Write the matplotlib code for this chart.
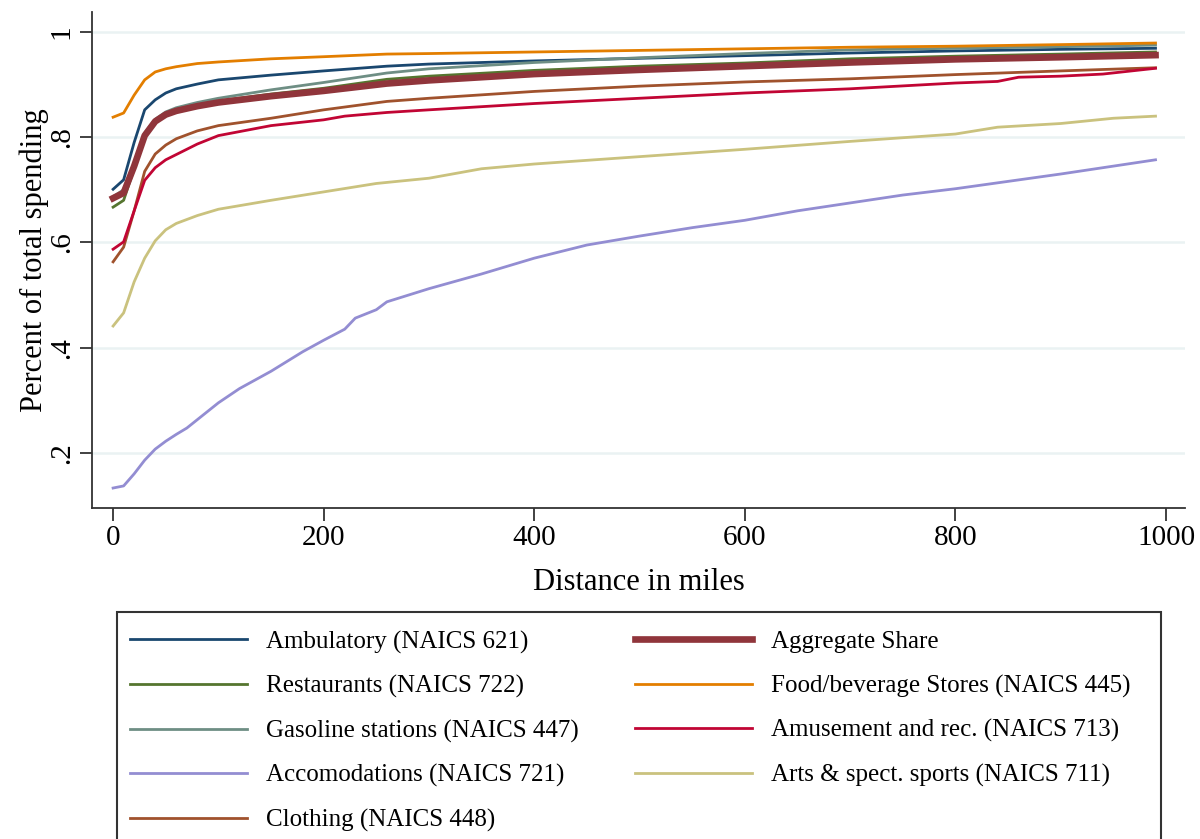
import matplotlib
matplotlib.use("Agg")
import matplotlib.pyplot as plt
from matplotlib.patches import Rectangle

plt.rcParams['font.family'] = ['Liberation Serif', 'DejaVu Serif']

# distance grid (miles) and read-off shares
x_std = [0, 10, 20, 30, 40, 50, 60, 80, 100, 150, 200, 260, 300, 400, 500, 600, 700, 800, 900, 990]

ambulatory = [0.701, 0.719, 0.790, 0.852, 0.871, 0.884, 0.892, 0.901, 0.909, 0.918, 0.926, 0.935, 0.939,
              0.945, 0.950, 0.955, 0.960, 0.964, 0.967, 0.969]
aggregate = [0.684, 0.694, 0.745, 0.803, 0.830, 0.843, 0.850, 0.859, 0.866, 0.878, 0.888, 0.902, 0.908,
             0.920, 0.928, 0.935, 0.942, 0.948, 0.952, 0.956]
restaurants = [0.667, 0.680, 0.740, 0.800, 0.828, 0.843, 0.851, 0.861, 0.869, 0.882, 0.893, 0.910, 0.916,
               0.927, 0.935, 0.941, 0.949, 0.954, 0.958, 0.962]
food = [0.838, 0.846, 0.880, 0.909, 0.924, 0.930, 0.934, 0.940, 0.943, 0.949, 0.953, 0.958, 0.959,
        0.962, 0.965, 0.968, 0.971, 0.973, 0.976, 0.979]
gasoline = [0.687, 0.700, 0.750, 0.808, 0.834, 0.848, 0.856, 0.866, 0.874, 0.890, 0.904, 0.922, 0.930,
            0.942, 0.951, 0.959, 0.966, 0.969, 0.972, 0.975]
clothing = [0.563, 0.591, 0.660, 0.735, 0.768, 0.785, 0.797, 0.812, 0.822, 0.836, 0.852, 0.868, 0.874,
            0.887, 0.897, 0.905, 0.911, 0.919, 0.926, 0.932]

x_amuse = [0, 10, 20, 30, 40, 50, 60, 80, 100, 150, 200, 220, 260, 300, 400, 500, 600, 700, 800, 840,
           860, 900, 940, 990]
amusement = [0.587, 0.601, 0.660, 0.718, 0.742, 0.757, 0.767, 0.787, 0.803, 0.822, 0.833, 0.840, 0.847,
             0.852, 0.864, 0.874, 0.884, 0.892, 0.903, 0.906, 0.914, 0.916, 0.920, 0.931]

x_arts = [0, 10, 20, 30, 40, 50, 60, 80, 100, 150, 200, 250, 300, 350, 400, 500, 600, 700, 800, 840,
          900, 950, 990]
arts = [0.441, 0.466, 0.525, 0.570, 0.603, 0.624, 0.636, 0.651, 0.663, 0.680, 0.696, 0.712, 0.722, 0.740,
        0.749, 0.763, 0.777, 0.792, 0.806, 0.819, 0.826, 0.836, 0.840]

x_accom = [0, 10, 20, 30, 40, 50, 60, 70, 80, 100, 120, 150, 180, 200, 220, 230, 250, 260, 300, 350,
           400, 450, 500, 550, 600, 650, 700, 750, 800, 850, 900, 950, 990]
accom = [0.133, 0.137, 0.160, 0.186, 0.207, 0.222, 0.235, 0.247, 0.263, 0.295, 0.322, 0.355, 0.392,
         0.414, 0.435, 0.456, 0.472, 0.487, 0.512, 0.540, 0.570, 0.595, 0.612, 0.628, 0.642, 0.660,
         0.675, 0.690, 0.702, 0.716, 0.730, 0.745, 0.757]

y_ticks = [0.2, 0.4, 0.6, 0.8, 1.0]
y_ticklabels = ['.2', '.4', '.6', '.8', '1']
x_ticks = [0, 200, 400, 600, 800, 1000]

fig = plt.figure(figsize=(12, 8.39), dpi=100)
ax = fig.add_axes([0.0767, 0.3945, 0.9108, 0.5912])

h = {}
h['amb'], = ax.plot(x_std, ambulatory, color='#1a476f', lw=2.0, label='Ambulatory (NAICS 621)')
h['res'], = ax.plot(x_std, restaurants, color='#55752f', lw=2.0, label='Restaurants (NAICS 722)')
h['gas'], = ax.plot(x_std, gasoline, color='#6e8e84', lw=2.0, label='Gasoline stations (NAICS 447)')
h['acc'], = ax.plot(x_accom, accom, color='#938dd2', lw=2.0, label='Accomodations (NAICS 721)')
h['clo'], = ax.plot(x_std, clothing, color='#a0522d', lw=2.0, label='Clothing (NAICS 448)')
h['foo'], = ax.plot(x_std, food, color='#e37e00', lw=2.0, label='Food/beverage Stores (NAICS 445)')
h['amu'], = ax.plot(x_amuse, amusement, color='#c10534', lw=2.0, label='Amusement and rec. (NAICS 713)')
h['art'], = ax.plot(x_arts, arts, color='#cac27e', lw=2.0, label='Arts & spect. sports (NAICS 711)')
h['agg'], = ax.plot(x_std, aggregate, color='#90353b', lw=4.8, label='Aggregate Share')

ax.set_xlim(-20, 1018)
ax.set_ylim(0.095, 1.038)
ax.set_xticks(x_ticks)
ax.set_yticks(y_ticks)
ax.set_yticklabels(y_ticklabels, rotation=90, va='center')
ax.tick_params(labelsize=21, length=9, width=1.3, color='#333333')
ax.grid(axis='y', color='#eaf2f3', lw=1.8)
ax.set_axisbelow(True)
for s in ['top', 'right']:
    ax.spines[s].set_visible(False)
for s in ['left', 'bottom']:
    ax.spines[s].set_color('#333333')
    ax.spines[s].set_linewidth(1.3)

ax.set_xlabel('Distance in miles', fontsize=22, labelpad=12)
ax.set_ylabel('Percent of total spending', fontsize=22, labelpad=0)

# legend box runs off the bottom of the picture, so draw the frame by hand
fig.patches.append(Rectangle((0.0975, -0.05), 0.87, 0.2706 + 0.05, transform=fig.transFigure,
                             fill=False, edgecolor='#333333', lw=1.5))

order = ['amb', 'res', 'gas', 'acc', 'clo', 'agg', 'foo', 'amu', 'art']
leg = fig.legend([h[k] for k in order], [h[k].get_label() for k in order],
                 loc='upper left', bbox_to_anchor=(0.0975, 0.2634),
                 borderaxespad=0.0, ncol=2, fontsize=18, frameon=False,
                 handlelength=4.7, handletextpad=0.75, labelspacing=0.86, borderpad=0.5,
                 columnspacing=2.24)

fig.savefig('out.png', dpi=100)
